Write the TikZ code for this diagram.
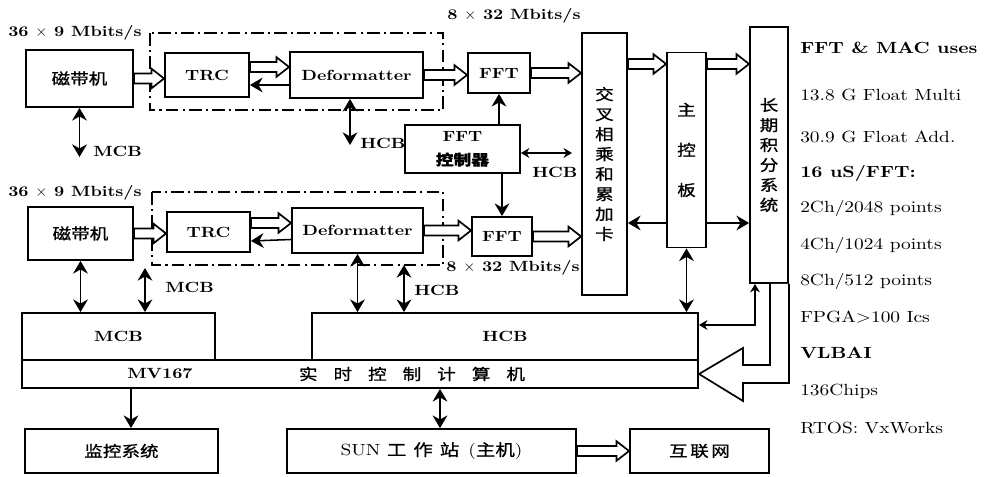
\documentclass[tikz,border=0pt]{standalone}
\usepackage{fontspec}
\setmainfont{lmroman10-regular.otf}[BoldFont=lmroman10-bold.otf,FakeStretch=1.2]
\newfontfamily\cjk{Noto Sans CJK SC}[FakeStretch=1.2,FakeBold=1]
\usetikzlibrary{arrows.meta,calc}

\begin{document}
\begin{tikzpicture}[
  x=0.025cm, y=-0.025cm,
  box/.style={draw,line width=1.3pt,inner sep=0pt,font=\bfseries\fontsize{10.5}{13}\selectfont},
  cbox/.style={box,font=\cjk\fontsize{11}{14.2}\selectfont},
  lbl/.style={anchor=west,inner sep=0pt,font=\bfseries\fontsize{10.5}{13}\selectfont},
  note/.style={anchor=west,inner sep=0pt,font=\fontsize{11.5}{13}\selectfont},
  grp/.style={line width=1.2pt,dash pattern=on 9pt off 3pt on 1.5pt off 3pt},
  arr/.style={-{Stealth[length=9pt,width=10.5pt]},line width=1.1pt},
  dbl/.style={{Stealth[length=9pt,width=10.5pt]}-{Stealth[length=9pt,width=10.5pt]},line width=1.1pt},
  sdbl/.style={{Stealth[length=6pt,width=7pt]}-{Stealth[length=6pt,width=7pt]},line width=1pt},
  big/.style={line width=1.2pt,line join=miter,fill=white},
  fat/.style={line width=1.2pt,fill=white,line join=miter,
    to path={let \p1=(\tikztostart),\p2=(\tikztotarget) in
      (\x1,\y1+3.5pt) -- (\x2-9pt,\y1+3.5pt) -- (\x2-9pt,\y1+7pt) -- (\x2,\y1)
      -- (\x2-9pt,\y1-7pt) -- (\x2-9pt,\y1-3.5pt) -- (\x1,\y1-3.5pt) -- cycle}}
]
\useasboundingbox (0,0) rectangle (989,477);

% upper channel
\node[cbox,minimum width=2.675cm,minimum height=1.425cm] (tapeA) at (79.5,78.5) {磁带机};
\node[box,minimum width=2.1cm,minimum height=1.1cm] (trcA) at (207,75) {TRC};
\node[box,minimum width=3.325cm,minimum height=1.15cm] (defA) at (356.5,75) {Deformatter};
\node[box,minimum width=1.55cm,minimum height=1cm] (fftA) at (499,73) {FFT};
\draw[grp] (150,33) rectangle (443,110);

\node[box,minimum width=2.875cm,minimum height=1.2cm,align=center,
  font=\bfseries\fontsize{10.5}{17}\selectfont] (ctrl) at (462.5,149) {FFT\\{\cjk 控制器}};

% lower channel
\node[cbox,minimum width=2.625cm,minimum height=1.325cm] (tapeB) at (80.5,233.5) {磁带机};
\node[box,minimum width=2.075cm,minimum height=1cm] (trcB) at (208.5,232) {TRC};
\node[box,minimum width=3.275cm,minimum height=1.125cm] (defB) at (357.5,230.5) {Deformatter};
\node[box,minimum width=1.5cm,minimum height=0.975cm] (fftB) at (502,236.5) {FFT};
\draw[grp] (152,192) rectangle (443,265);

% boards
\node[cbox,align=center,minimum width=1.125cm,minimum height=6.55cm] (xmac) at (604.5,164)
  {交\\叉\\相\\乘\\和\\累\\加\\卡};
\node[cbox,align=center,minimum width=0.975cm,minimum height=4.875cm,
  font=\cjk\fontsize{11}{28.5}\selectfont] (main) at (686.5,150) {主\\控\\板};
\node[cbox,align=center,minimum width=0.95cm,minimum height=6.4cm] (lti) at (769,155)
  {长\\期\\积\\分\\系\\统};

% buses and computers
\node[box,minimum width=4.825cm,minimum height=1.175cm] (mcb) at (118.5,336.5) {MCB};
\node[box,minimum width=9.65cm,minimum height=1.175cm] (hcb) at (505,336.5) {HCB};
\node[box,minimum width=16.9cm,minimum height=0.7cm] (mv) at (360,374) {};
\node[font=\bfseries\fontsize{10.5}{13}\selectfont] (mvA) at (160,374) {MV167};
\node[font=\cjk\fontsize{11}{13}\selectfont] (mvB) at (412,374)
  {实\hspace{4mm}时\hspace{4mm}控\hspace{4mm}制\hspace{4mm}计\hspace{4mm}算\hspace{4mm}机};
\node[cbox,minimum width=4.825cm,minimum height=1.1cm] (mon) at (121.5,451) {监控系统};
\node[box,minimum width=7.225cm,minimum height=1.1cm,font=\fontsize{11.5}{13}\selectfont] (sun) at (431.5,451)
  {SUN {\cjk 工\, 作\, 站}\, ({\cjk 主机})};
\node[cbox,minimum width=3.475cm,minimum height=1.1cm] (net) at (699.5,451) {互\,联\,网};

% labels
\node[lbl] (rateA) at (8,33) {36 $\times$ 9 Mbits/s};
\node[lbl] (rateB) at (8,193) {36 $\times$ 9 Mbits/s};
\node[lbl] (outA) at (447,16) {8 $\times$ 32 Mbits/s};
\node[lbl] (outB) at (446,268) {8 $\times$ 32 Mbits/s};
\node[lbl] (mcbLA) at (93,151) {MCB};
\node[lbl] (mcbLB) at (165,287) {MCB};
\node[lbl] (hcbLA) at (360,143) {HCB};
\node[lbl] (hcbLB) at (414,290) {HCB};
\node[lbl] (hcbLC) at (532,172) {HCB};

% notes
\node[note,font=\bfseries\fontsize{11.5}{13}\selectfont] (useA) at (800,48) {FFT \& MAC uses};
\node[note] (useB) at (800,95) {13.8 G Float Multi};
\node[note] (useC) at (800,137) {30.9 G Float Add.};
\node[note,font=\bfseries\fontsize{11.5}{13}\selectfont] (useD) at (800,173) {16 uS/FFT:};
\node[note] (useE) at (800,208) {2Ch/2048 points};
\node[note] (useF) at (800,245) {4Ch/1024 points};
\node[note] (useG) at (800,281) {8Ch/512 points};
\node[note] (useH) at (800,317) {FPGA>100 Ics};
\node[note,font=\bfseries\fontsize{11.5}{13}\selectfont] (useI) at (800,353) {VLBAI};
\node[note] (useJ) at (800,391) {136Chips};
\node[note] (useK) at (800,428) {RTOS: VxWorks};

\coordinate (rowA) at (0,64);
\coordinate (rowM) at (0,223);
\coordinate (mA) at (79.5,157);
\coordinate (hA) at (350,145);
\coordinate (hC) at (572,153);
\coordinate (mB) at (145,268);
\coordinate (hB) at (404,265);
\coordinate (bend) at (755,325);
\coordinate (tx) at (131,0);
\coordinate (sx) at (440,0);

% data paths
\draw[fat] (tapeA.east) to (trcA.west);
\draw[fat] ($(trcA.east)+(0,-8)$) to (defA.west);
\draw[arr] ($(defA.west)+(0,10)$) -- ($(trcA.east)+(0,10)$);
\draw[fat] (defA.east) to (fftA.west);
\draw[fat] (fftA.east) to (xmac.west);
\draw[fat] (tapeB.east) to (trcB.west);
\draw[fat] ($(trcB.east)+(0,-9)$) to (defB.west);
\draw[arr] ($(defB.west)+(0,9)$) -- ($(trcB.east)+(0,9)$);
\draw[fat] (defB.east) to (fftB.west);
\draw[fat] (fftB.east) to (xmac.west);
\draw[fat] (xmac.east |- rowA) to (main.west);
\draw[fat] (main.east |- rowA) to (lti.west);
\draw[arr] (main.west |- rowM) -- (xmac.east |- rowM);
\draw[arr] (main.east |- rowM) -- (lti.west |- rowM);

% control
\draw[arr] (ctrl.north -| fftA.south) -- (fftA.south);
\draw[arr] (ctrl.south -| fftB.north) -- (fftB.north);
\draw[sdbl] (ctrl.east |- hC) -- (hC);
\draw[dbl] (tapeA.south) -- (mA);
\draw[dbl] (defA.south -| hA) -- (hA);
\draw[dbl] (tapeB.south) -- (tapeB.south |- mcb.north);
\draw[dbl] (mB) -- (mB |- mcb.north);
\draw[dbl] (defB.south) -- (defB.south |- hcb.north);
\draw[dbl] (hB) -- (hB |- hcb.north);
\draw[dbl] (main.south) -- (main.south |- hcb.north);
\draw[sdbl] (hcb.east |- bend) -- (bend) -- (bend |- lti.south);
\draw[big] (770,0 |- lti.south) -- (770,365) -- (743,365) -- (743,348) -- (mv.east)
  -- (743,401) -- (743,383) -- (lti.south east |- 0,383) -- (lti.south east);

% host side
\draw[arr] (mv.south -| tx) -- (mon.north -| tx);
\draw[dbl] (mv.south -| sx) -- (sun.north -| sx);
\draw[fat] (sun.east) to (net.west);
\end{tikzpicture}
\end{document}
